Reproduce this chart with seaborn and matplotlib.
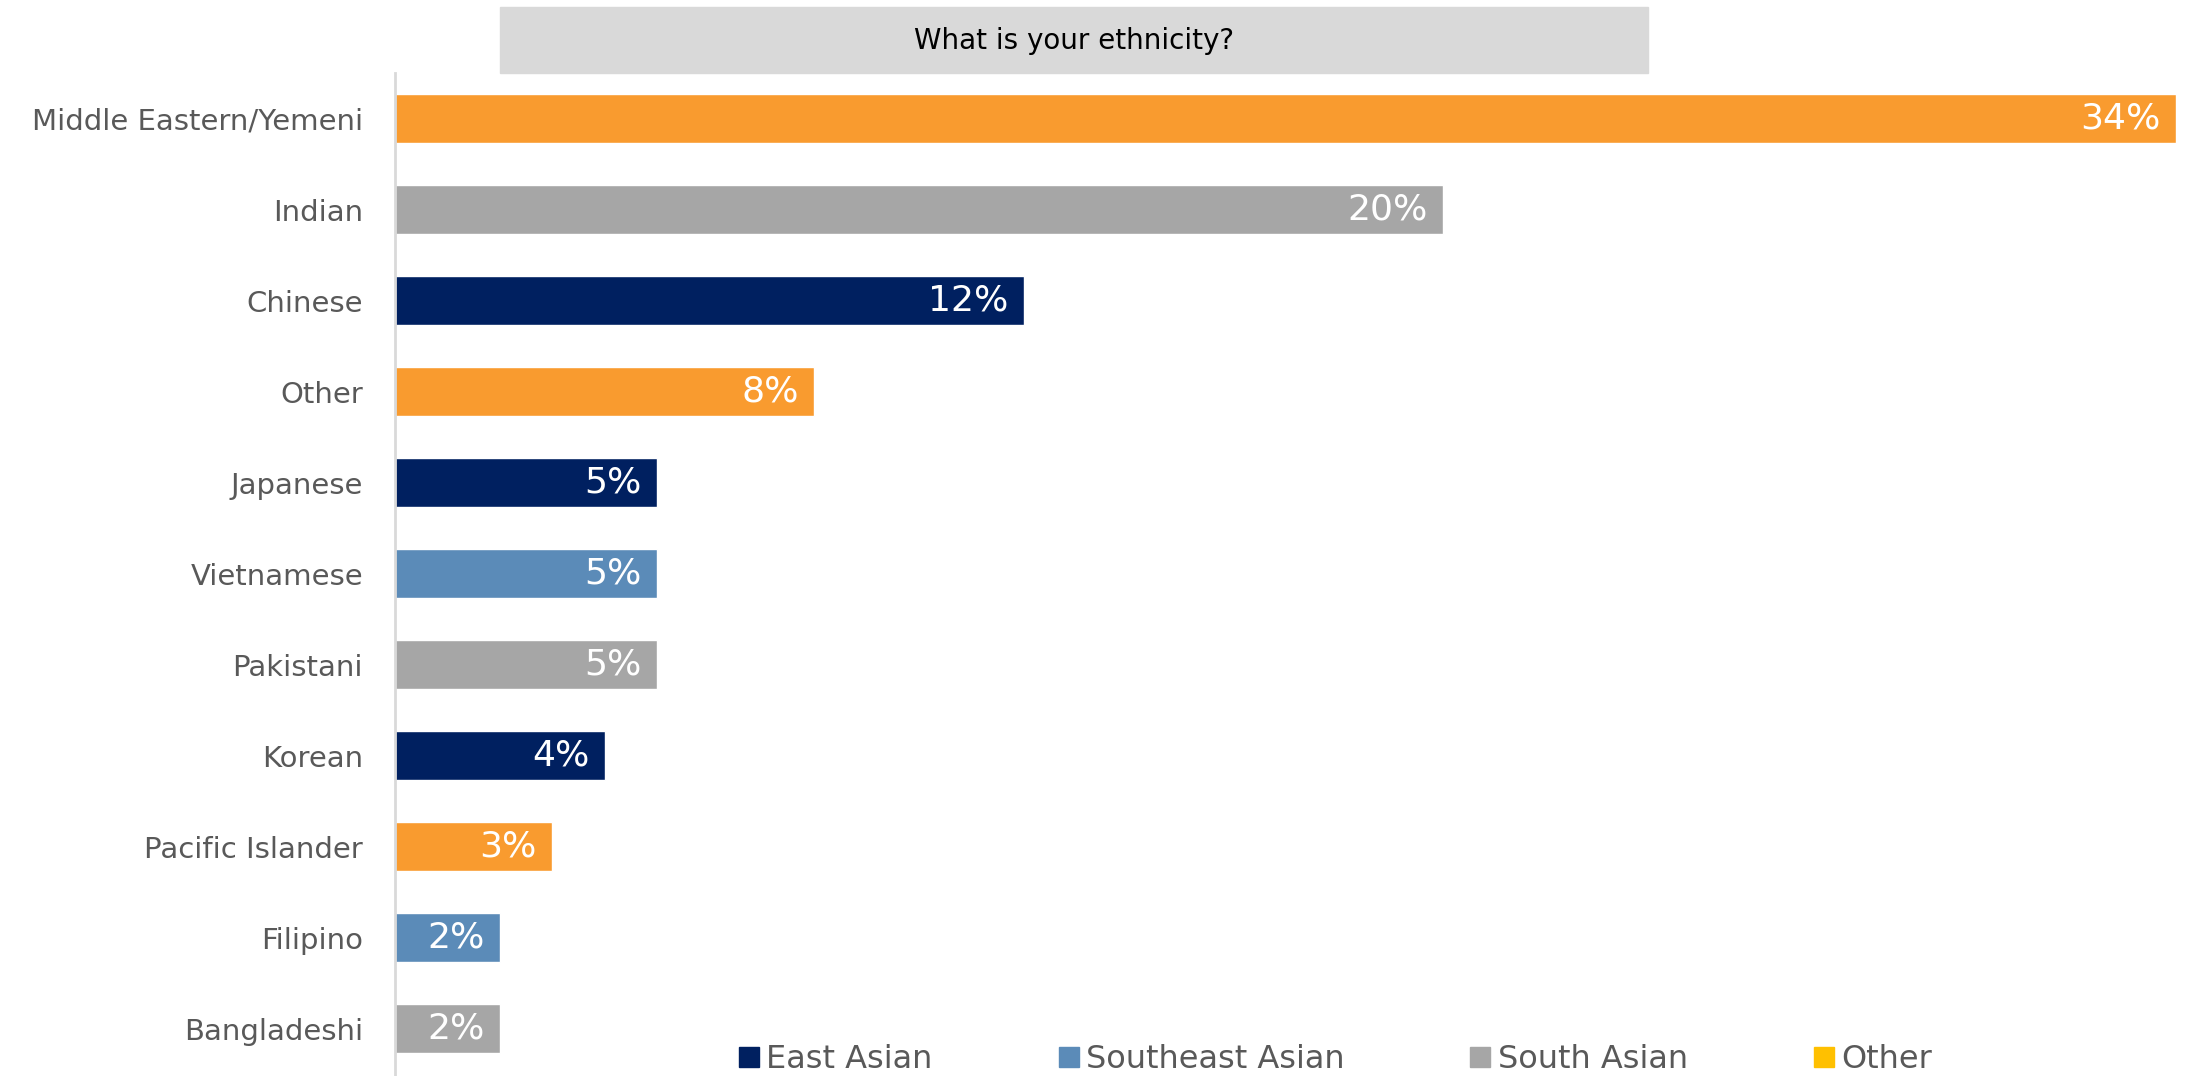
import matplotlib
matplotlib.use("Agg")
import matplotlib.pyplot as plt
from matplotlib.patches import Rectangle
from matplotlib.lines import Line2D
import seaborn as sns
import pandas as pd

categories = ["Middle Eastern/Yemeni", "Indian", "Chinese", "Other", "Japanese",
              "Vietnamese", "Pakistani", "Korean", "Pacific Islander", "Filipino",
              "Bangladeshi"]
values = [34, 20, 12, 8, 5, 5, 5, 4, 3, 2, 2]
groups = ["Other", "South Asian", "East Asian", "Other", "East Asian",
          "Southeast Asian", "South Asian", "East Asian", "Other", "Southeast Asian",
          "South Asian"]
legend_labels = ["East Asian", "Southeast Asian", "South Asian", "Other"]
legend_colors = ["#002060", "#5B8BB8", "#A6A6A6", "#FFC000"]
bar_colors = {"East Asian": "#002060", "Southeast Asian": "#5B8BB8",
              "South Asian": "#A6A6A6", "Other": "#F99B2F"}

df = pd.DataFrame({"category": categories, "value": values, "group": groups})

sns.set_style("white")
plt.rcParams["font.family"] = ["DejaVu Sans"]

W, H = 2193, 1076
fig = plt.figure(figsize=(W / 100, H / 100), dpi=100)
ax = fig.add_axes([395 / W, 0, (2176 - 395) / W, 1003 / H])

sns.barplot(data=df, y="category", x="value", hue="category",
            palette=[bar_colors[g] for g in groups], width=0.54,
            legend=False, ax=ax, saturation=1)

ax.set_xlim(0, 34)
ax.set_ylim(10.52, -0.5)
ax.set_xlabel("")
ax.set_ylabel("")
ax.set_xticks([])
for s in ["top", "right", "bottom"]:
    ax.spines[s].set_visible(False)
ax.spines["left"].set_color("#D9D9D9")
ax.spines["left"].set_linewidth(2)
ax.tick_params(axis="y", length=0, pad=23, labelsize=21, labelcolor="#595959")

for i, v in enumerate(values):
    ax.annotate(f"{v}%", xy=(v, i), xytext=(-11, 0), textcoords="offset points",
                ha="right", va="center", color="white", fontsize=26)

# grey box behind the question
fig.patches.append(Rectangle((500 / W, 1 - 73 / H), (1648 - 500) / W, 66 / H,
                             transform=fig.transFigure, color="#D9D9D9", zorder=0))
fig.text(1074 / W, 1 - 41 / H, "What is your ethnicity?", ha="center", va="center",
         fontsize=20, color="#000000")

handles = [Line2D([], [], marker="s", linestyle="none", markersize=14, color=c)
           for c in legend_colors]
fig.legend(handles, legend_labels, loc="center", bbox_to_anchor=(1335 / W, 16 / H),
           ncol=4, frameon=False, fontsize=23, labelcolor="#595959",
           columnspacing=3.9, handletextpad=0.2, handlelength=0.7)

fig.savefig("out.png", dpi=100)
